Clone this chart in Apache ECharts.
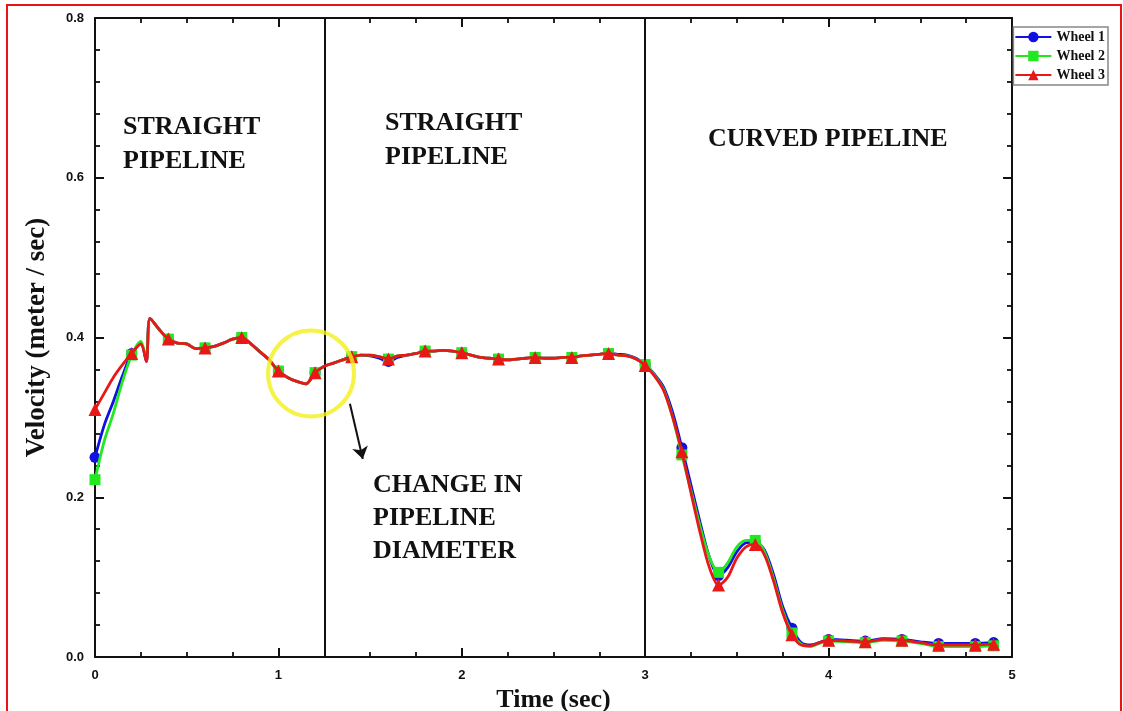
<!DOCTYPE html>
<html><head><meta charset="utf-8">
<script src="https://cdn.jsdelivr.net/npm/echarts@6/dist/echarts.min.js"></script>
<style>html,body{margin:0;padding:0;background:#fff}#c{width:1123px;height:711px}</style>
</head><body><div id="c"></div>
<script>
const time = [0,0.05,0.1,0.15,0.2,0.25,0.28,0.3,0.35,0.4,0.45,0.5,0.55,0.6,0.65,0.7,0.75,0.8,0.85,0.9,0.95,1.0,1.05,1.1,1.15,1.2,1.25,1.3,1.35,1.4,1.45,1.5,1.55,1.6,1.65,1.7,1.75,1.8,1.85,1.9,1.95,2.0,2.05,2.1,2.15,2.2,2.25,2.3,2.35,2.4,2.45,2.5,2.55,2.6,2.65,2.7,2.75,2.8,2.85,2.9,2.95,3.0,3.05,3.1,3.15,3.2,3.25,3.3,3.35,3.4,3.45,3.5,3.55,3.6,3.65,3.7,3.75,3.8,3.85,3.9,3.95,4.0,4.1,4.2,4.3,4.4,4.5,4.6,4.7,4.8,4.9];
const wheel3 = [0.310,0.330,0.350,0.366,0.380,0.392,0.370,0.424,0.410,0.398,0.393,0.392,0.386,0.387,0.389,0.393,0.398,0.400,0.392,0.382,0.372,0.358,0.350,0.345,0.342,0.356,0.364,0.368,0.372,0.376,0.378,0.378,0.376,0.373,0.377,0.378,0.380,0.383,0.383,0.384,0.383,0.381,0.378,0.375,0.374,0.373,0.372,0.373,0.374,0.375,0.374,0.374,0.375,0.375,0.377,0.378,0.379,0.380,0.378,0.377,0.373,0.365,0.352,0.334,0.300,0.257,0.205,0.155,0.112,0.090,0.100,0.124,0.138,0.141,0.128,0.095,0.055,0.028,0.015,0.014,0.018,0.021,0.020,0.019,0.022,0.021,0.018,0.015,0.015,0.015,0.016];
const wheel1 = [0.250,0.290,0.320,0.352,0.380,0.392,0.370,0.424,0.410,0.398,0.393,0.392,0.386,0.387,0.389,0.393,0.398,0.400,0.392,0.382,0.372,0.358,0.350,0.345,0.342,0.356,0.364,0.368,0.372,0.376,0.378,0.377,0.374,0.370,0.375,0.378,0.380,0.383,0.383,0.384,0.383,0.381,0.378,0.375,0.374,0.373,0.372,0.373,0.374,0.375,0.374,0.374,0.375,0.375,0.377,0.378,0.379,0.380,0.379,0.378,0.374,0.366,0.354,0.338,0.306,0.262,0.215,0.168,0.125,0.102,0.112,0.132,0.143,0.144,0.134,0.103,0.063,0.036,0.018,0.015,0.018,0.022,0.021,0.020,0.023,0.022,0.019,0.017,0.017,0.017,0.018];
const wheel2 = [0.222,0.270,0.305,0.345,0.378,0.395,0.372,0.424,0.410,0.398,0.393,0.392,0.386,0.387,0.389,0.393,0.398,0.400,0.392,0.382,0.372,0.358,0.350,0.345,0.342,0.356,0.364,0.368,0.372,0.376,0.378,0.378,0.376,0.373,0.377,0.378,0.380,0.383,0.383,0.384,0.383,0.381,0.378,0.375,0.374,0.373,0.372,0.373,0.374,0.375,0.374,0.374,0.375,0.375,0.377,0.378,0.379,0.380,0.378,0.377,0.373,0.366,0.353,0.335,0.300,0.253,0.208,0.163,0.125,0.106,0.118,0.138,0.146,0.146,0.132,0.098,0.058,0.030,0.016,0.013,0.017,0.020,0.019,0.018,0.021,0.020,0.017,0.013,0.013,0.013,0.014];
const markerTimes = [0,0.2,0.4,0.6,0.8,1.0,1.2,1.4,1.6,1.8,2.0,2.2,2.4,2.6,2.8,3.0,3.2,3.4,3.6,3.8,4.0,4.2,4.4,4.6,4.8,4.9];
const sectionLines = [1.25, 3];
const seriesNames = ['Wheel 1','Wheel 2','Wheel 3'];
const seriesColors = ['#1010e0','#22e822','#e81818'];
const seriesSymbols = ['circle','rect','triangle'];

const serif = '"Liberation Serif","Times New Roman",serif';
const sans = '"Liberation Sans",Arial,sans-serif';
const pairs = vals => time.map((t,i)=>[t, vals[i]]);
const isMarker = t => markerTimes.some(m => Math.abs(m - t) < 1e-6);

const chart = echarts.init(document.getElementById('c'));
const allVals = [wheel1, wheel2, wheel3];
const series = allVals.map((vals, k) => ({
  name: seriesNames[k], type: 'line', data: pairs(vals), smooth: 0.3,
  symbol: seriesSymbols[k],
  symbolSize: (v) => isMarker(v[0]) ? (k === 2 ? 13 : 11) : 0,
  showAllSymbol: true,
  lineStyle: {color: seriesColors[k], width: 2.8},
  itemStyle: {color: seriesColors[k]},
  z: 3 + k,
  animation: false
}));
series[2].markLine = {
  silent: true, symbol: ['none','none'], label: {show:false},
  lineStyle: {color:'#111', width: 2, type:'solid'},
  data: sectionLines.map(x => ({xAxis: x}))
};
series.push({
  type: 'scatter', name: 'circle', data: [[1.178, 0.355]], symbol: 'circle', symbolSize: 86,
  itemStyle: {color: 'rgba(0,0,0,0)', borderColor: '#f4f01a', borderWidth: 4}, silent: true, z: 10, animation:false
});
series.push({
  type: 'lines', coordinateSystem: 'cartesian2d', silent: true, z: 10, animation:false,
  symbol: ['none','arrow'], symbolSize: 12,
  lineStyle: {color:'#111', width: 2, opacity: 1},
  data: [{coords: [[1.39, 0.317],[1.46, 0.248]]}]
});

const tickCommon = {inside: true, length: 9, lineStyle: {color:'#111', width: 2}};
const minorCommon = {show: true, length: 5, lineStyle: {color:'#111', width: 1.8}};
const lineCommon = {show: true, onZero: false, lineStyle: {color:'#111', width: 2}};

chart.setOption({
  animation: false,
  backgroundColor: '#fff',
  grid: {left: 95, right: 111, top: 18, bottom: 54, containLabel: false, outerBoundsMode: 'none'},
  legend: {
    data: seriesNames, right: 15, top: 27, orient: 'vertical',
    itemWidth: 36, itemHeight: 13, itemGap: 5,
    borderColor: '#888', borderWidth: 1.5, padding: [3,3,3,1],
    textStyle: {fontFamily: serif, fontWeight: 'bold', fontSize: 14, color:'#111'}
  },
  xAxis: [{
    type: 'value', min: 0, max: 5, interval: 1, position: 'bottom',
    name: 'Time (sec)', nameLocation: 'middle', nameGap: 20,
    nameTextStyle: {fontFamily: serif, fontWeight: 'bold', fontSize: 26, color:'#111'},
    axisLine: lineCommon, axisTick: tickCommon,
    minorTick: Object.assign({splitNumber: 4}, minorCommon),
    splitLine: {show:false},
    axisLabel: {fontFamily: sans, fontWeight:'bold', fontSize: 13, color:'#111', margin: 12}
  },{
    type: 'value', min: 0, max: 5, interval: 1, position: 'top',
    axisLine: lineCommon, axisTick: tickCommon,
    minorTick: Object.assign({splitNumber: 4}, minorCommon),
    splitLine: {show:false}, axisLabel: {show:false}
  }],
  yAxis: [{
    type: 'value', min: 0, max: 0.8, interval: 0.2, position: 'left',
    name: 'Velocity (meter / sec)', nameLocation: 'middle', nameGap: 44,
    nameTextStyle: {fontFamily: serif, fontWeight: 'bold', fontSize: 27, color:'#111'},
    axisLine: lineCommon, axisTick: tickCommon,
    minorTick: Object.assign({splitNumber: 5}, minorCommon),
    splitLine: {show:false},
    axisLabel: {fontFamily: sans, fontWeight:'bold', fontSize: 13, color:'#111', margin: 11, formatter: v => v.toFixed(1)}
  },{
    type: 'value', min: 0, max: 0.8, interval: 0.2, position: 'right',
    axisLine: lineCommon, axisTick: tickCommon,
    minorTick: Object.assign({splitNumber: 5}, minorCommon),
    splitLine: {show:false}, axisLabel: {show:false}
  }],
  graphic: [
    {type:'rect', shape:{x:7, y:5, width:1114, height:712}, style:{fill:'none', stroke:'#ee1111', lineWidth:2}, silent:true},
    {type:'text', left: 123, top: 110, style:{text:'STRAIGHT\nPIPELINE', font:'bold 26px '+serif, fill:'#111', lineHeight: 34}},
    {type:'text', left: 385, top: 106, style:{text:'STRAIGHT\nPIPELINE', font:'bold 26px '+serif, fill:'#111', lineHeight: 34}},
    {type:'text', left: 708, top: 126, style:{text:'CURVED PIPELINE', font:'bold 26px '+serif, fill:'#111'}},
    {type:'text', left: 373, top: 469, style:{text:'CHANGE IN\nPIPELINE\nDIAMETER', font:'bold 26px '+serif, fill:'#111', lineHeight: 33}}
  ],
  series: series
});
</script></body></html>
